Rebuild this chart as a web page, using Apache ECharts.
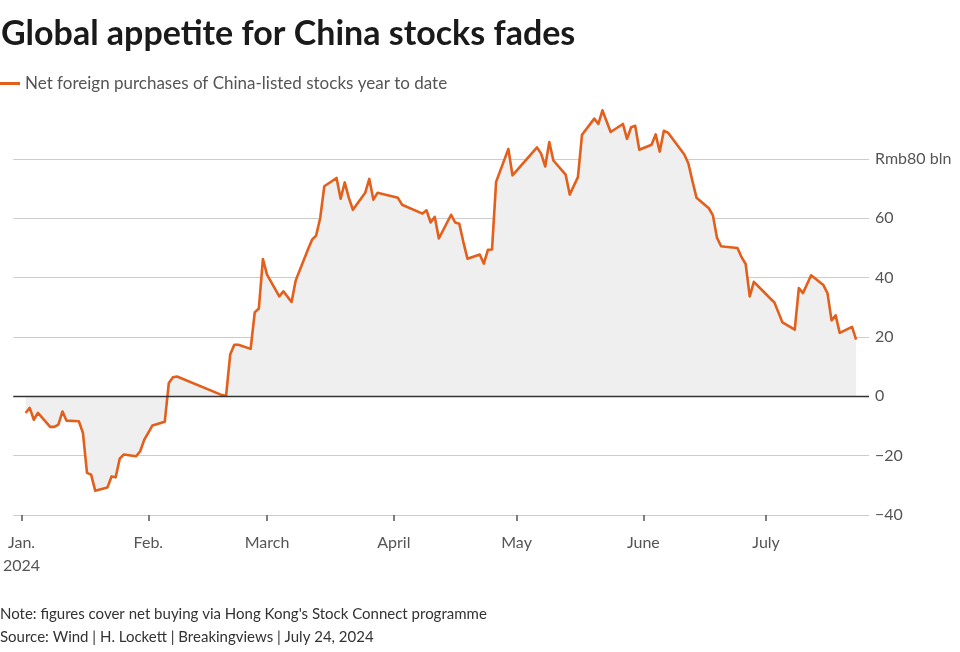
<!DOCTYPE html>
<html>
<head>
<meta charset="utf-8">
<script src="https://cdn.jsdelivr.net/npm/echarts@6/dist/echarts.min.js"></script>
<style>
  html, body { margin: 0; padding: 0; background: #fff; }
  #chart { width: 960px; height: 652px; }
</style>
</head>
<body>
<div id="chart"></div>
<script>
// ---- Data ----
const dates = [
  '2024-01-02','2024-01-03','2024-01-04','2024-01-05','2024-01-08','2024-01-09','2024-01-10','2024-01-11','2024-01-12',
  '2024-01-15','2024-01-16','2024-01-17','2024-01-18','2024-01-19','2024-01-22','2024-01-23','2024-01-24','2024-01-25','2024-01-26',
  '2024-01-29','2024-01-30','2024-01-31','2024-02-01','2024-02-02','2024-02-05','2024-02-06','2024-02-07','2024-02-08',
  '2024-02-19','2024-02-20','2024-02-21','2024-02-22','2024-02-23','2024-02-26','2024-02-27','2024-02-28','2024-02-29','2024-03-01',
  '2024-03-04','2024-03-05','2024-03-06','2024-03-07','2024-03-08','2024-03-11','2024-03-12','2024-03-13','2024-03-14','2024-03-15',
  '2024-03-18','2024-03-19','2024-03-20','2024-03-21','2024-03-22','2024-03-25','2024-03-26','2024-03-27','2024-03-28','2024-03-29',
  '2024-04-01','2024-04-02','2024-04-03','2024-04-08','2024-04-09','2024-04-10','2024-04-11','2024-04-12',
  '2024-04-15','2024-04-16','2024-04-17','2024-04-18','2024-04-19','2024-04-22','2024-04-23','2024-04-24','2024-04-25','2024-04-26',
  '2024-04-29','2024-04-30','2024-05-06','2024-05-07','2024-05-08','2024-05-09','2024-05-10',
  '2024-05-13','2024-05-14','2024-05-15','2024-05-16','2024-05-17','2024-05-20','2024-05-21','2024-05-22','2024-05-23','2024-05-24',
  '2024-05-27','2024-05-28','2024-05-29','2024-05-30','2024-05-31','2024-06-03','2024-06-04','2024-06-05','2024-06-06','2024-06-07',
  '2024-06-11','2024-06-12','2024-06-13','2024-06-14','2024-06-17','2024-06-18','2024-06-19','2024-06-20','2024-06-21',
  '2024-06-24','2024-06-25','2024-06-26','2024-06-27','2024-06-28','2024-07-01','2024-07-02','2024-07-03','2024-07-04','2024-07-05',
  '2024-07-08','2024-07-09','2024-07-10','2024-07-11','2024-07-12','2024-07-15','2024-07-16','2024-07-17','2024-07-18','2024-07-19',
  '2024-07-22','2024-07-23'
];
const netPurchases = [
  -5.6,-3.9,-7.9,-5.6,-10.3,-10.3,-9.5,-5.1,-8.2,
  -8.4,-12.3,-25.8,-26.4,-31.8,-30.7,-27.0,-27.3,-21.0,-19.6,
  -20.2,-18.5,-14.6,-12.2,-9.8,-8.6,4.5,6.4,6.7,
  0.4,0.2,14.1,17.4,17.4,16.0,28.3,29.6,46.3,41.0,
  33.7,35.4,33.6,31.8,39.0,49.5,52.8,54.2,60.1,70.8,
  73.6,66.6,72.1,66.9,62.9,68.6,73.3,66.3,68.6,68.3,
  67.3,66.9,64.6,61.6,62.7,58.6,60.5,53.2,
  61.2,58.6,58.2,52.0,46.4,47.8,44.7,49.4,49.5,72.3,
  83.4,74.5,83.9,81.8,77.5,85.7,79.5,
  74.7,68.0,71.0,73.9,88.2,93.6,91.8,96.4,92.7,89.1,
  91.8,86.8,90.7,91.2,83.1,84.8,88.3,82.5,89.5,88.9,
  81.5,78.5,72.5,66.9,63.4,61.0,53.4,50.6,50.4,
  50.0,46.9,44.6,33.7,38.6,34.4,33.0,31.7,28.3,24.9,
  22.5,36.5,34.8,37.8,40.8,37.5,34.8,25.6,27.3,21.4,
  23.4,19.1
];
const monthTicks = ['2024-01-01','2024-02-01','2024-03-01','2024-04-01','2024-05-01','2024-06-01','2024-07-01'];
const monthLabels = ['Jan.\n2024','Feb.','March','April','May','June','July'];
const yTicks = [-40,-20,0,20,40,60,80];
const yLabels = ['\u221240','\u221220','0','20','40','60','Rmb80 bln'];

// ---- helpers: dates -> day number since Jan 1, 2024 ----
const DAY = 86400000;
const JAN1 = Date.UTC(2024, 0, 1);
function toDay(s){ const p = s.split('-').map(Number); return (Date.UTC(p[0], p[1]-1, p[2]) - JAN1) / DAY; }
const seriesData = dates.map((d,i)=>[toDay(d), netPurchases[i]]);
const tickDays = monthTicks.map(toDay);
const FONT = 'Lato, "Noto Sans", sans-serif';

const chart = echarts.init(document.getElementById('chart'), null, {renderer:'canvas'});
chart.setOption({
  animation: false,
  backgroundColor: '#ffffff',
  textStyle: { fontFamily: FONT },
  title: [
    { text: 'Global appetite for China stocks fades', left: 1, top: 17, padding: 0,
      textStyle: { fontFamily: FONT, fontSize: 34, fontWeight: 'bold', color: '#1a1a1a' } },
    { text: "Note: figures cover net buying via Hong Kong's Stock Connect programme\nSource: Wind | H. Lockett | Breakingviews | July 24, 2024",
      left: 0, top: 603, padding: 0,
      textStyle: { fontFamily: FONT, fontSize: 15, fontWeight: 'normal', color: '#333', lineHeight: 23 } }
  ],
  legend: {
    left: 0, top: 75, padding: 0, icon: 'rect', itemWidth: 20, itemHeight: 3, itemGap: 8,
    textStyle: { fontFamily: FONT, fontSize: 17, color: '#555' },
    data: [{ name: 'Net foreign purchases of China-listed stocks year to date' }]
  },
  grid: { left: 10, right: 91, top: 159, bottom: 137, containLabel: false },
  xAxis: {
    type: 'value',
    min: -2.021,
    max: 207.15,
    axisLine: { show: false, onZero: false },
    splitLine: { show: false },
    axisTick: { show: true, customValues: tickDays, length: 6, lineStyle: { color: '#555', width: 1.5 } },
    axisLabel: {
      customValues: tickDays,
      formatter: function (v) {
        const i = tickDays.indexOf(v);
        return i >= 0 ? monthLabels[i] : '';
      },
      fontFamily: FONT, fontSize: 16, color: '#555', margin: 16, lineHeight: 23
    }
  },
  yAxis: {
    type: 'value', position: 'right', min: -40, max: 80, interval: 20,
    axisLine: { show: false }, axisTick: { show: false },
    splitLine: { show: true, lineStyle: { color: '#cccccc', width: 1 } },
    axisLabel: {
      margin: 6, fontFamily: FONT, fontSize: 16, color: '#555',
      formatter: function (v) { const i = yTicks.indexOf(v); return i >= 0 ? yLabels[i] : ''; }
    }
  },
  series: [{
    name: 'Net foreign purchases of China-listed stocks year to date',
    type: 'line',
    data: seriesData,
    clip: false,
    showSymbol: false, symbol: 'none',
    lineStyle: { color: '#e35f1c', width: 2.6, join: 'round' },
    itemStyle: { color: '#e35f1c' },
    areaStyle: { color: '#efefef', opacity: 1 },
    markLine: {
      silent: true, symbol: 'none', label: { show: false },
      lineStyle: { color: '#333', width: 1.4, type: 'solid' },
      data: [{ yAxis: 0 }]
    },
    z: 3
  }]
});
</script>
</body>
</html>
